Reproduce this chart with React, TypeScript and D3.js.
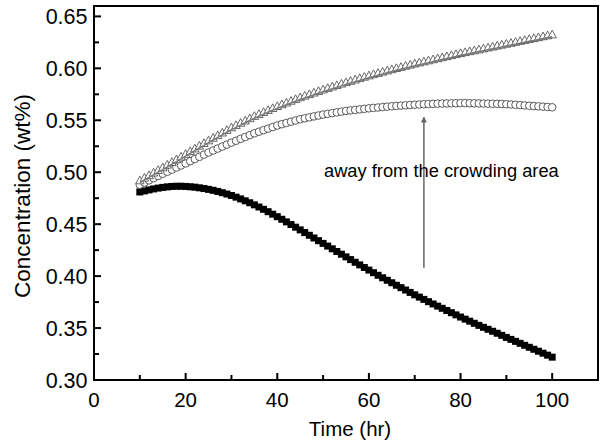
import React from 'react';
import * as d3 from 'd3';

// Time (hr) of the first sample; samples are one hour apart
const timeStart = 10;

// Filled squares
const squareValues = [
  0.4810, 0.4820, 0.4830, 0.4839, 0.4847, 0.4854, 0.4859, 0.4863, 0.4865, 0.4865,
  0.4863, 0.4860, 0.4856, 0.4850, 0.4843, 0.4835, 0.4826, 0.4815, 0.4803, 0.4790,
  0.4776, 0.4760, 0.4743, 0.4725, 0.4706, 0.4686, 0.4665, 0.4643, 0.4620, 0.4596,
  0.4572, 0.4547, 0.4522, 0.4497, 0.4471, 0.4445, 0.4419, 0.4393, 0.4367, 0.4341,
  0.4315, 0.4289, 0.4263, 0.4237, 0.4211, 0.4185, 0.4159, 0.4133, 0.4108, 0.4083,
  0.4058, 0.4033, 0.4008, 0.3984, 0.3960, 0.3936, 0.3912, 0.3889, 0.3866, 0.3843,
  0.3820, 0.3798, 0.3776, 0.3754, 0.3732, 0.3711, 0.3690, 0.3669, 0.3648, 0.3627,
  0.3606, 0.3586, 0.3566, 0.3546, 0.3526, 0.3507, 0.3488, 0.3469, 0.3450, 0.3430,
  0.3410, 0.3391, 0.3372, 0.3353, 0.3334, 0.3315, 0.3296, 0.3277, 0.3258, 0.3239,
  0.3220,
];

// Open circles
const circleValues = [
  0.4880, 0.4901, 0.4922, 0.4943, 0.4964, 0.4985, 0.5005, 0.5025, 0.5045, 0.5065,
  0.5085, 0.5106, 0.5127, 0.5148, 0.5169, 0.5190, 0.5209, 0.5228, 0.5247, 0.5266,
  0.5285, 0.5303, 0.5321, 0.5339, 0.5357, 0.5375, 0.5390, 0.5405, 0.5420, 0.5435,
  0.5450, 0.5462, 0.5474, 0.5486, 0.5498, 0.5510, 0.5519, 0.5528, 0.5537, 0.5546,
  0.5555, 0.5562, 0.5569, 0.5576, 0.5583, 0.5590, 0.5595, 0.5600, 0.5605, 0.5610,
  0.5615, 0.5619, 0.5623, 0.5627, 0.5631, 0.5635, 0.5638, 0.5641, 0.5644, 0.5647,
  0.5650, 0.5652, 0.5654, 0.5656, 0.5658, 0.5660, 0.5661, 0.5662, 0.5663, 0.5664,
  0.5665, 0.5665, 0.5664, 0.5663, 0.5662, 0.5661, 0.5660, 0.5659, 0.5658, 0.5657,
  0.5655, 0.5652, 0.5649, 0.5646, 0.5643, 0.5640, 0.5637, 0.5634, 0.5631, 0.5628,
  0.5625,
];

// Open triangles (with a line through them)
const triangleValues = [
  0.4900, 0.4925, 0.4950, 0.4975, 0.5000, 0.5025, 0.5051, 0.5077, 0.5103, 0.5129,
  0.5155, 0.5181, 0.5207, 0.5233, 0.5259, 0.5285, 0.5310, 0.5335, 0.5360, 0.5385,
  0.5410, 0.5432, 0.5454, 0.5476, 0.5498, 0.5520, 0.5539, 0.5558, 0.5577, 0.5596,
  0.5615, 0.5632, 0.5649, 0.5666, 0.5683, 0.5700, 0.5715, 0.5730, 0.5745, 0.5760,
  0.5775, 0.5789, 0.5803, 0.5817, 0.5831, 0.5845, 0.5858, 0.5871, 0.5884, 0.5897,
  0.5910, 0.5922, 0.5934, 0.5946, 0.5958, 0.5970, 0.5981, 0.5992, 0.6003, 0.6014,
  0.6025, 0.6035, 0.6045, 0.6055, 0.6065, 0.6075, 0.6085, 0.6095, 0.6105, 0.6115,
  0.6125, 0.6134, 0.6143, 0.6152, 0.6161, 0.6170, 0.6179, 0.6188, 0.6197, 0.6206,
  0.6215, 0.6224, 0.6233, 0.6242, 0.6251, 0.6260, 0.6269, 0.6278, 0.6287, 0.6296,
  0.6305,
];

const xTickValues = [0, 20, 40, 60, 80, 100];
const xMinorTicks = [10, 30, 50, 70, 90];
const yTickValues = [0.30, 0.35, 0.40, 0.45, 0.50, 0.55, 0.60, 0.65];
const yMinorTicks = [0.325, 0.375, 0.425, 0.475, 0.525, 0.575, 0.625];
const xDomain = [0, 110];
const yDomain = [0.30, 0.66];

const xTitle = 'Time (hr)';
const yTitle = 'Concentration (wt%)';
const annotationText = 'away from the crowding area';
const annotationPos = [50.2, 0.4955];
const arrowX = 72;
const arrowFrom = 0.408;
const arrowTo = 0.553;

const FONT = '"Liberation Sans", Arial, Helvetica, sans-serif';

export default function App() {
  const width = 600;
  const height = 445;
  const left = 94;
  const right = 598;
  const top = 6;
  const bottom = 380;

  const x = d3.scaleLinear().domain(xDomain).range([left, right]);
  const y = d3.scaleLinear().domain(yDomain).range([bottom, top]);

  const toPts = (vals: number[]) => vals.map((v, i) => [timeStart + i, v] as [number, number]);
  const squares = toPts(squareValues);
  const circles = toPts(circleValues);
  const triangles = toPts(triangleValues);

  const line = d3
    .line<[number, number]>()
    .x((d) => x(d[0]))
    .y((d) => y(d[1]));

  const majorLen = 7;
  const minorLen = 5;

  return (
    <div style={{ position: 'absolute', left: 0, top: 0 }}>
      <svg width={width} height={height} style={{ display: 'block', background: '#fff' }} fontFamily={FONT}>
        <defs>
          <marker id="arrowhead" viewBox="0 0 10 10" refX="9" refY="5" markerWidth="4" markerHeight="6" orient="auto" markerUnits="strokeWidth">
            <path d="M0,0 L10,5 L0,10 z" fill="#666" />
          </marker>
        </defs>

        {/* squares */}
        <g>
          {squares.map((d, i) => (
            <rect key={i} x={x(d[0]) - 3.5} y={y(d[1]) - 3.5} width={7} height={7} fill="#000" />
          ))}
        </g>

        {/* circles */}
        <g>
          {circles.map((d, i) => (
            <circle key={i} cx={x(d[0])} cy={y(d[1])} r={3.8} fill="#fff" stroke="#333" strokeWidth={0.8} />
          ))}
        </g>

        {/* triangles */}
        <g>
          {triangles.map((d, i) => {
            const cx = x(d[0]);
            const cy = y(d[1]);
            return (
              <path
                key={i}
                d={`M${cx},${cy - 6.5} L${cx + 4.2},${cy + 1.2} L${cx - 4.2},${cy + 1.2} Z`}
                fill="#fff"
                stroke="#444"
                strokeWidth={0.8}
              />
            );
          })}
        </g>
        <path d={line(triangles) || ''} fill="none" stroke="#7a7a7a" strokeWidth={1.5} />

        {/* annotation arrow */}
        <line
          x1={x(arrowX)}
          x2={x(arrowX)}
          y1={y(arrowFrom)}
          y2={y(arrowTo)}
          stroke="#666"
          strokeWidth={1.5}
          markerEnd="url(#arrowhead)"
        />
        <text x={x(annotationPos[0])} y={y(annotationPos[1])} fontSize={18.3} fill="#000">
          {annotationText}
        </text>

        {/* frame */}
        <rect x={left} y={top} width={right - left} height={bottom - top} fill="none" stroke="#000" strokeWidth={2} />

        {/* x ticks */}
        {xTickValues.map((t) => (
          <g key={'xt' + t}>
            <line x1={x(t)} x2={x(t)} y1={bottom} y2={bottom - majorLen} stroke="#000" strokeWidth={2} />
            <text x={x(t)} y={407} textAnchor="middle" fontSize={20.5} fill="#000">
              {t}
            </text>
          </g>
        ))}
        {xMinorTicks.map((t) => (
          <line key={'xm' + t} x1={x(t)} x2={x(t)} y1={bottom} y2={bottom - minorLen} stroke="#000" strokeWidth={2} />
        ))}

        {/* y ticks */}
        {yTickValues.map((v) => (
          <g key={'yt' + v}>
            <line x1={left} x2={left + majorLen} y1={y(v)} y2={y(v)} stroke="#000" strokeWidth={2} />
            <text x={87.5} y={y(v)} dy="0.36em" textAnchor="end" fontSize={21.5} fill="#000">
              {v.toFixed(2)}
            </text>
          </g>
        ))}
        {yMinorTicks.map((v) => (
          <line key={'ym' + v} x1={left} x2={left + minorLen} y1={y(v)} y2={y(v)} stroke="#000" strokeWidth={2} />
        ))}

        {/* axis titles */}
        <text x={(left + right) / 2 + 4} y={436} textAnchor="middle" fontSize={20.5} fill="#000">
          {xTitle}
        </text>
        <text
          transform={`translate(30, ${(top + bottom) / 2 + 3}) rotate(-90)`}
          textAnchor="middle"
          fontSize={22.5}
          fill="#000"
        >
          {yTitle}
        </text>
      </svg>
    </div>
  );
}
